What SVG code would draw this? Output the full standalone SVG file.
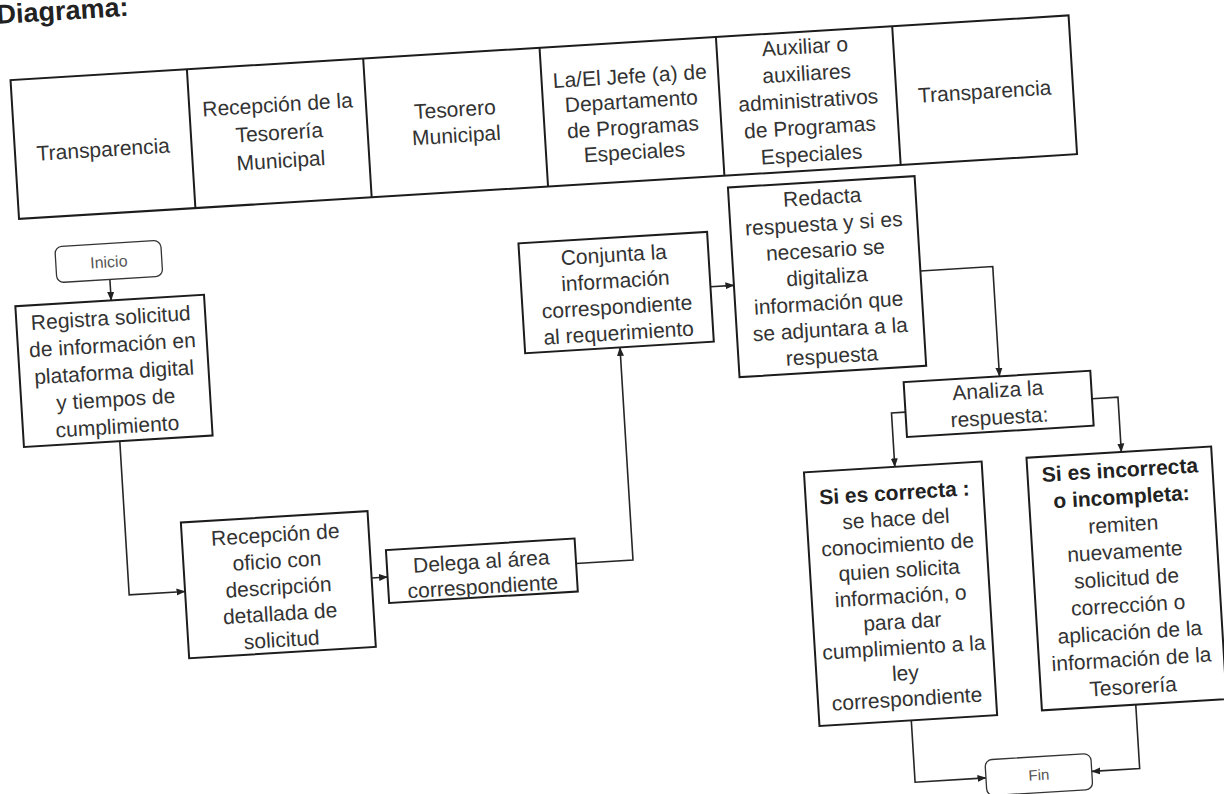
<svg xmlns="http://www.w3.org/2000/svg" width="1224" height="794" viewBox="0 0 1224 794">
<defs>
<marker id="ah" markerWidth="9" markerHeight="8" refX="8.5" refY="4" orient="auto" markerUnits="userSpaceOnUse"><path d="M0,0.5 L9,4 L0,7.5 z" fill="#222"/></marker>
<style>
.box{fill:#fff;stroke:#1c1c1c;stroke-width:2}
.term{fill:#fff;stroke:#333;stroke-width:1.3}
.grid{fill:none;stroke:#1c1c1c;stroke-width:2}
.conn{fill:none;stroke:#262626;stroke-width:1.6}
text{font-family:"Liberation Sans",Arial,sans-serif;font-size:21px;fill:#333;text-anchor:middle}
.b{font-weight:bold;fill:#222}
.small{font-size:16px;fill:#555}
.title{font-size:27px;font-weight:bold;text-anchor:start;fill:#222}
</style>
</defs>
<rect width="1224" height="794" fill="#fff"/>
<g transform="rotate(-3.5 612 397)">
<text class="title" x="21" y="-13">Diagrama:</text>
<g id="header">
<rect class="grid" x="31" y="44" width="1060" height="139"/>
<path class="grid" d="M207.7,44 V183 M384.3,44 V183 M561,44 V183 M737.7,44 V183 M914.3,44 V183"/>
<text x="119.3" y="126">Transparencia</text>
<text x="296" y="92">Recepción de la</text>
<text x="296" y="120">Tesorería</text>
<text x="296" y="148">Municipal</text>
<text x="472.7" y="107.5">Tesorero</text>
<text x="472.7" y="133.5">Municipal</text>
<text x="649.3" y="85">La/El Jefe (a) de</text>
<text x="649.3" y="110">Departamento</text>
<text x="649.3" y="136">de Programas</text>
<text x="649.3" y="161">Especiales</text>
<text x="826" y="66">Auxiliar o</text>
<text x="826" y="93">auxiliares</text>
<text x="826" y="120">administrativos</text>
<text x="826" y="147">de Programas</text>
<text x="826" y="174">Especiales</text>
<text x="1002.7" y="122">Transparencia</text>
</g>
<g id="connectors">
<path class="conn" marker-end="url(#ah)" d="M118,249 V270"/>
<path class="conn" marker-end="url(#ah)" d="M118,411 V565 H174"/>
<path class="conn" marker-end="url(#ah)" d="M361,563 H377"/>
<path class="conn" marker-end="url(#ah)" d="M566,561 H623 V348"/>
<path class="conn" marker-end="url(#ah)" d="M717,293 H740.5"/>
<path class="conn" marker-end="url(#ah)" d="M927.5,290 H1000 V400"/>
<path class="conn" marker-end="url(#ah)" d="M904,430 H890 V484"/>
<path class="conn" marker-end="url(#ah)" d="M1091,428 H1117 V483"/>
<path class="conn" marker-end="url(#ah)" d="M891,738 V800 H962"/>
<path class="conn" marker-end="url(#ah)" d="M1116,736 V800 H1068"/>
</g>
<g id="inicio">
<rect class="term" x="65" y="213" width="106" height="36" rx="7"/>
<text class="small" x="118" y="237">Inicio</text>
</g>
<g id="registra">
<rect class="box" x="22" y="270" width="189" height="141"/>
<text x="116.5" y="294.6">Registra solicitud</text>
<text x="116.5" y="321.8">de información en</text>
<text x="116.5" y="349">plataforma digital</text>
<text x="116.5" y="376.2">y tiempos de</text>
<text x="116.5" y="403.4">cumplimiento</text>
</g>
<g id="recepcion">
<rect class="box" x="174" y="496" width="187" height="136"/>
<text x="267.5" y="521">Recepción de</text>
<text x="267.5" y="547.3">oficio con</text>
<text x="267.5" y="573.7">descripción</text>
<text x="267.5" y="600">detallada de</text>
<text x="267.5" y="626.3">solicitud</text>
</g>
<g id="delega">
<rect class="box" x="377" y="536" width="189" height="53"/>
<text x="471.5" y="560.3">Delega al área</text>
<text x="471.5" y="585.5">correspondiente</text>
</g>
<g id="conjunta">
<rect class="box" x="528" y="238" width="189" height="110"/>
<text x="622.5" y="262.3">Conjunta la</text>
<text x="622.5" y="288.4">información</text>
<text x="622.5" y="314.5">correspondiente</text>
<text x="622.5" y="340.6">al requerimiento</text>
</g>
<g id="redacta">
<rect class="box" x="740.5" y="195" width="187" height="190"/>
<text x="834" y="217.5">Redacta</text>
<text x="834" y="244">respuesta y si es</text>
<text x="834" y="270.5">necesario se</text>
<text x="834" y="297">digitaliza</text>
<text x="834" y="323.5">información que</text>
<text x="834" y="350">se adjuntara a la</text>
<text x="834" y="376.5">respuesta</text>
</g>
<g id="analiza">
<rect class="box" x="904" y="400" width="187" height="55"/>
<text x="997.5" y="421">Analiza la</text>
<text x="997.5" y="448">respuesta:</text>
</g>
<g id="correcta">
<rect class="box" x="799" y="484" width="178" height="254"/>
<text class="b" x="888" y="517">Si es correcta :</text>
<text x="888" y="543">se hace del</text>
<text x="888" y="569">conocimiento de</text>
<text x="888" y="594.5">quien solicita</text>
<text x="888" y="620.5">información, o</text>
<text x="888" y="646">para dar</text>
<text x="888" y="672">cumplimiento a la</text>
<text x="888" y="697.5">ley</text>
<text x="888" y="723.5">correspondiente</text>
</g>
<g id="incorrecta">
<rect class="box" x="1022" y="483" width="185" height="253"/>
<text class="b" x="1114.5" y="508">Si es incorrecta</text>
<text class="b" x="1114.5" y="535">o incompleta:</text>
<text x="1114.5" y="562.5">remiten</text>
<text x="1114.5" y="589.5">nuevamente</text>
<text x="1114.5" y="616.5">solicitud de</text>
<text x="1114.5" y="643.5">corrección o</text>
<text x="1114.5" y="670.5">aplicación de la</text>
<text x="1114.5" y="697.5">información de la</text>
<text x="1114.5" y="725">Tesorería</text>
</g>
<g id="fin">
<rect class="term" x="962" y="782" width="106" height="36" rx="7"/>
<text class="small" x="1015" y="805.5" style="font-size:15px">Fin</text>
</g>
</g>
</svg>
